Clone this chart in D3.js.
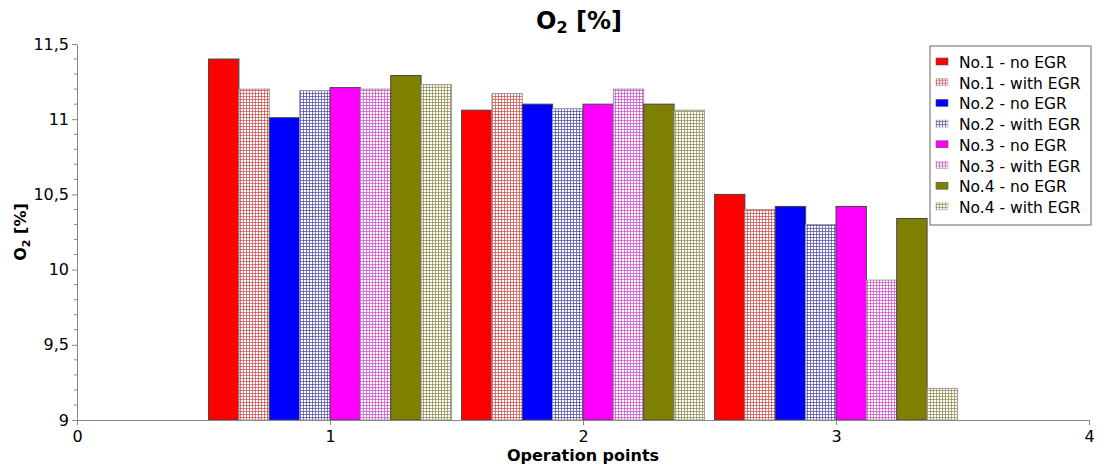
<!DOCTYPE html>
<html><head><meta charset="utf-8">
<script src="https://cdn.jsdelivr.net/npm/d3@7"></script>
<style>body{margin:0;background:#fff}svg{display:block;font-family:"DejaVu Sans",Verdana,sans-serif}</style>
</head><body><svg id="c" width="1099" height="470"></svg>
<script>
const points = [1, 2, 3];
const seriesNames = ["No.1 - no EGR","No.1 - with EGR","No.2 - no EGR","No.2 - with EGR","No.3 - no EGR","No.3 - with EGR","No.4 - no EGR","No.4 - with EGR"];
const seriesColors = ["#ff0000","#cc4444","#0000ff","#4444aa","#ff00ff","#cc44cc","#808000","#888844"];
const seriesHatched = [false,true,false,true,false,true,false,true];
const no1_noEGR   = [11.40, 11.06, 10.50];
const no1_withEGR = [11.20, 11.17, 10.40];
const no2_noEGR   = [11.01, 11.10, 10.42];
const no2_withEGR = [11.19, 11.07, 10.30];
const no3_noEGR   = [11.21, 11.10, 10.42];
const no3_withEGR = [11.20, 11.20, 9.93];
const no4_noEGR   = [11.29, 11.10, 10.34];
const no4_withEGR = [11.23, 11.06, 9.21];
const seriesValues = [no1_noEGR,no1_withEGR,no2_noEGR,no2_withEGR,no3_noEGR,no3_withEGR,no4_noEGR,no4_withEGR];
const xTicks = [0,1,2,3,4];
const yTicks = [9,9.5,10,10.5,11,11.5];

const svg = d3.select("#c");
const x = d3.scaleLinear().domain([0,4]).range([77,1089]);
const y = d3.scaleLinear().domain([9,11.5]).range([420,44]);
const barW = 0.12;

const defs = svg.append("defs");
seriesColors.forEach((c,i)=>{
  if(!seriesHatched[i]) return;
  const p = defs.append("pattern").attr("id","h"+i).attr("width",3).attr("height",3).attr("patternUnits","userSpaceOnUse");
  p.append("rect").attr("width",3).attr("height",3).attr("fill","#fff");
  p.append("rect").attr("width",3).attr("height",1).attr("fill",c).attr("opacity",0.7);
  p.append("rect").attr("width",1).attr("height",3).attr("fill",c).attr("opacity",0.7);
});
const fillOf = i => seriesHatched[i] ? `url(#h${i})` : seriesColors[i];

// bars
seriesValues.forEach((vals,si)=>{
  svg.append("g").selectAll("rect").data(vals).join("rect")
    .attr("x",(d,k)=>x(points[k] - 4*barW + si*barW))
    .attr("width",x(barW)-x(0))
    .attr("y",d=>y(d))
    .attr("height",d=>y(9)-y(d))
    .attr("fill",fillOf(si))
    .attr("stroke",seriesHatched[si] ? "#999" : "#444")
    .attr("stroke-width",1);
});

// axes
const ax = svg.append("g").attr("transform",`translate(0,${y(9)})`)
  .call(d3.axisBottom(x).tickValues(xTicks).tickFormat(d3.format("d")).tickSize(5).tickSizeOuter(0));
const ay = svg.append("g").attr("transform",`translate(${x(0)},0)`)
  .call(d3.axisLeft(y).tickValues(yTicks).tickFormat(d=>String(d).replace(".",",")).tickSize(5).tickSizeOuter(0));
const minor = d3.range(9,11.5,0.1).filter(v=>Math.abs(v*2-Math.round(v*2))>0.01);
svg.append("g").selectAll("line").data(minor).join("line")
  .attr("x1",x(0)-3).attr("x2",x(0)).attr("y1",d=>y(d)).attr("y2",d=>y(d)).attr("stroke","#888");
[ax,ay].forEach(a=>{
  a.selectAll(".domain,line").attr("stroke","#888");
  a.selectAll("text").attr("font-size",16).attr("fill","#000").attr("font-family","DejaVu Sans, Verdana, sans-serif");
});
ax.selectAll("text").attr("dy","0.9em");

// titles
const t = svg.append("text").attr("x",579).attr("y",29).attr("text-anchor","middle").attr("font-size",24).attr("font-weight","bold");
t.append("tspan").text("O");
t.append("tspan").attr("font-size",16).attr("dy",4).text("2");
t.append("tspan").attr("dy",-4).text(" [%]");
svg.append("text").attr("x",583).attr("y",461).attr("text-anchor","middle").attr("font-size",16).attr("font-weight","bold").text("Operation points");
const yl = svg.append("text").attr("transform","translate(26,232) rotate(-90)").attr("text-anchor","middle").attr("font-size",16).attr("font-weight","bold");
yl.append("tspan").text("O");
yl.append("tspan").attr("font-size",11).attr("dy",4).text("2");
yl.append("tspan").attr("dy",-4).text(" [%]");

// legend
const lg = svg.append("g").attr("transform","translate(930,46)");
lg.append("rect").attr("width",161).attr("height",179).attr("fill","#fff").attr("stroke","#666");
seriesNames.forEach((n,i)=>{
  const g = lg.append("g").attr("transform",`translate(0,${16+i*20.7})`);
  g.append("rect").attr("x",6).attr("y",-4).attr("width",12).attr("height",7).attr("fill",fillOf(i)).attr("stroke",seriesHatched[i]?"#aaa":"#555").attr("stroke-width",0.6);
  g.append("text").attr("x",29).attr("y",6).attr("font-size",15.5).text(n);
});
</script></body></html>
